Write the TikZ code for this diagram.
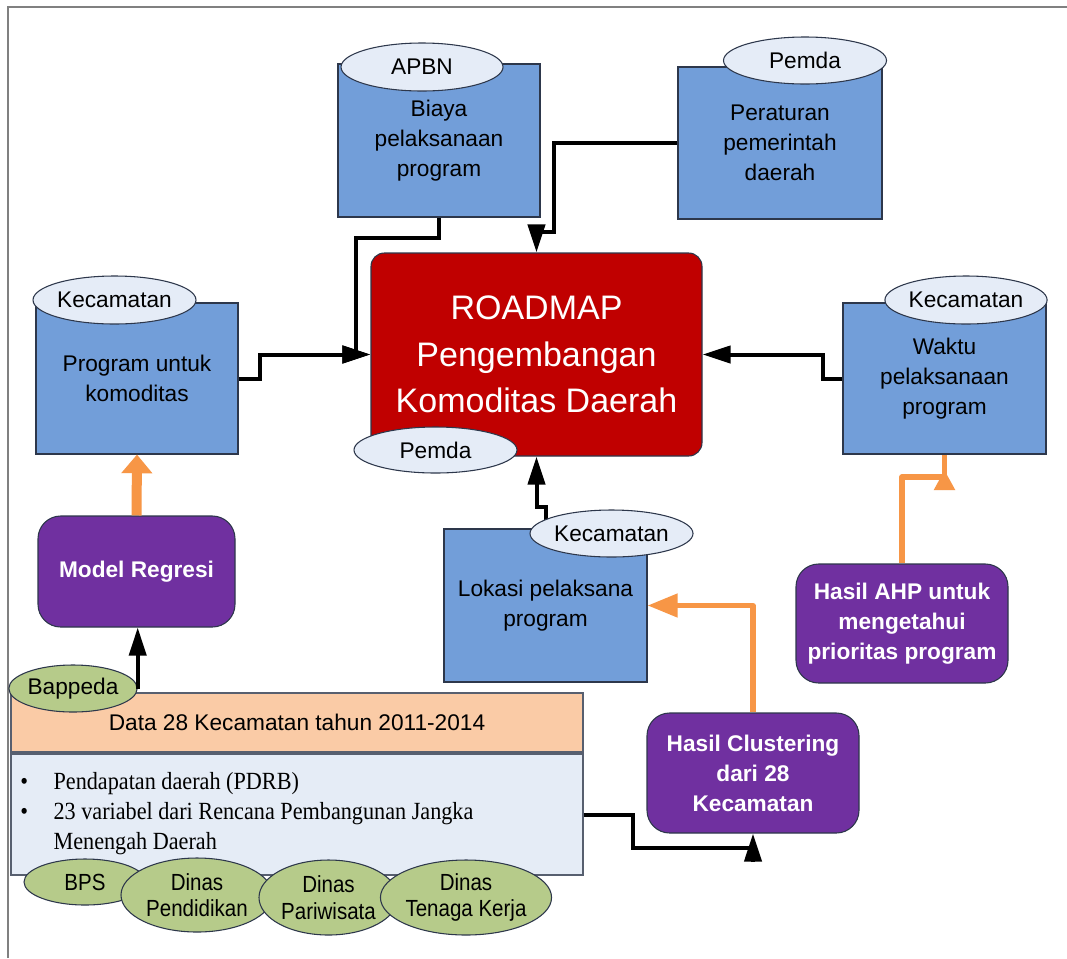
\documentclass[tikz,border=0pt]{standalone}
\usepackage{fontspec}
\setmainfont{Liberation Sans}
\newfontfamily\condsans[FakeStretch=0.88]{Liberation Sans}
\newfontfamily\condserif[FakeStretch=0.9]{Liberation Serif}
\usetikzlibrary{arrows.meta,shapes.geometric}
\definecolor{boxblue}{RGB}{114,158,217}
\definecolor{tagfill}{RGB}{229,236,247}
\definecolor{roadred}{RGB}{192,0,0}
\definecolor{procpurple}{RGB}{112,48,160}
\definecolor{flow}{RGB}{247,150,70}
\definecolor{peach}{RGB}{250,203,166}
\definecolor{listfill}{RGB}{229,236,246}
\definecolor{srcgreen}{RGB}{182,203,138}
\definecolor{edge}{RGB}{45,55,75}
\definecolor{framegray}{RGB}{128,128,128}

\begin{document}
\begin{tikzpicture}[x=0.75pt,y=-0.75pt,
  sz/.style 2 args={minimum width=#1*0.75pt, minimum height=#2*0.75pt},
  databox/.style={rectangle, draw=edge, line width=0.8pt, fill=boxblue, inner sep=0pt,
    align=center, font=\fontsize{17}{22.5}\selectfont},
  roadbox/.style={rectangle, rounded corners=10pt, draw=edge, line width=0.8pt, fill=roadred,
    text=white, inner sep=0pt, align=center, font=\fontsize{25.5}{35}\selectfont},
  process/.style={rectangle, rounded corners=17pt, draw=edge, line width=0.8pt, fill=procpurple,
    text=white, inner sep=0pt, align=center, font=\bfseries\fontsize{17}{22.5}\selectfont},
  peachbox/.style={rectangle, draw=edge!80, line width=0.8pt, fill=peach, inner sep=0pt,
    font=\fontsize{17}{20}\selectfont},
  listbox/.style={rectangle, draw=edge!80, line width=0.8pt, fill=listfill, inner sep=0pt},
  tag/.style={ellipse, draw=edge, line width=0.8pt, fill=tagfill, inner sep=0pt,
    font=\fontsize{17}{20}\selectfont},
  source/.style={ellipse, draw=edge, line width=0.8pt, fill=srcgreen, inner sep=0pt,
    align=center, font=\condsans\fontsize{17.5}{20}\selectfont},
  link/.style={draw=black, line width=3pt},
  blacktip/.style={-{Triangle[length=21pt,width=12.75pt]}},
  flowline/.style={draw=flow, line width=#1, line join=round}
]
\useasboundingbox (0,0) rectangle (1067,958);
\fill[white] (0,0) rectangle (1067,958);
\draw[framegray, line width=1.2pt] (8,958) -- (8,7) -- (1067,7);

% data boxes and the central roadmap
\node[databox, sz={202}{153}] (biaya) at (439,140.5) {Biaya\\pelaksanaan\\program};
\node[databox, sz={204}{152}] (perda) at (780,143) {Peraturan\\pemerintah\\daerah};
\node[databox, sz={202}{151}] (prog) at (137,378.5) {Program untuk\\komoditas};
\node[databox, sz={203}{151}] (waktu) at (944.5,378.5) {Waktu\\pelaksanaan\\program};
\node[databox, sz={203}{153}] (lokasi) at (545.5,605.5) {Lokasi pelaksana\\program};
\node[roadbox, sz={331}{203}] (road) at (536.5,354.5) {ROADMAP\\Pengembangan\\Komoditas Daerah};

% analysis steps
\node[process, sz={197}{111}] (model) at (136.5,571.5) {Model Regresi};
\node[process, sz={212}{119}] (ahp) at (902,623.5) {Hasil AHP untuk\\mengetahui\\prioritas program};
\node[process, sz={212}{120}] (clust) at (753,773) {Hasil Clustering\\dari 28\\Kecamatan};

% source data
\node[peachbox, sz={572}{59}] (data) at (297,722.5) {Data 28 Kecamatan tahun 2011-2014};
\node[listbox, sz={572}{121}] (vars) at (297,814.5) {};
\node[anchor=west, align=left, inner sep=0pt, font=\condserif\fontsize{18.5}{22.5}\selectfont]
  (varlist) at (20,814)
  {\makebox[25pt][l]{\textbullet}Pendapatan daerah (PDRB)\\
   \makebox[25pt][l]{\textbullet}23 variabel dari Rencana Pembangunan Jangka\\
   \hspace*{25pt}Menengah Daerah};

% black connectors into the roadmap
\draw[link, blacktip] (biaya.south) |- (356,238) |- (road.west);
\draw[link, blacktip] (prog.east) -- ++(21,0) |- (road.west);
\draw[link, blacktip] (perda.west) -| (554,232) -| (road.north);
\draw[link, blacktip] (waktu.west) -- ++(-19,0) |- (road.east);
\coordinate (lkA) at (545.5,507);
\coordinate (lkB) at (536.5,507);
\draw[link, blacktip] (lokasi.north) -- (lkA) -- (lkB) -- (road.south);

% variables to clustering
\coordinate (clbend) at (753,848);
\coordinate (clbase) at (753,862);
\draw[link] (vars.east) -| (633,848) -- (clbend);
\draw[link, blacktip] (clbase) -- (clust.south);

% orange result arrows
\draw[flowline=7.5pt, -{Triangle[length=14pt,width=22.5pt]}] (model.north) -- (prog.south);
\draw[flowline=4pt, -{Triangle[length=22.5pt,width=17pt]}] (clust.north) |- (lokasi.east);
\coordinate (ahpbend) at (944.5,477);
\coordinate (ahpbase) at (944.5,490);
\coordinate (ahptip) at (944.5,470);
\draw[flowline=4pt] (ahp.north) |- (ahpbend) -- (waktu.south);
\draw[flowline=4pt, -{Triangle[length=15pt,width=15pt]}] (ahpbase) -- (ahptip);

% owner tags
\node[tag, sz={162}{48}] (apbn) at (422,67) {APBN};
\node[tag, sz={163}{47}] (pemdaA) at (805,60.5) {Pemda};
\node[tag, sz={163}{48}] (kecA) at (114.5,300) {Kecamatan};
\node[tag, sz={162}{48}] (kecB) at (966,300) {Kecamatan};
\node[tag, sz={163}{47}] (kecC) at (611.5,533.5) {Kecamatan};
\node[tag, sz={163}{46}] (pemdaB) at (435.5,450) {Pemda};

% bappeda tag with its link to the regression model
\node[source, sz={128}{47}, font=\fontsize{17}{20}\selectfont] (bappeda) at (73,688.5) {Bappeda};
\draw[link, blacktip] (bappeda.east) -- (bappeda.east |- model.south);

% data providers
\node[source, sz={122}{46}] (bps) at (85,882) {BPS};
\node[source, sz={152}{74}] (didik) at (197,895) {Dinas\\Pendidikan};
\node[source, sz={139}{75}] (wisata) at (328.5,897.5) {Dinas\\Pariwisata};
\node[source, sz={160}{75}] (naker) at (466,897.5) {Dinas\\Tenaga Kerja};
\end{tikzpicture}
\end{document}
